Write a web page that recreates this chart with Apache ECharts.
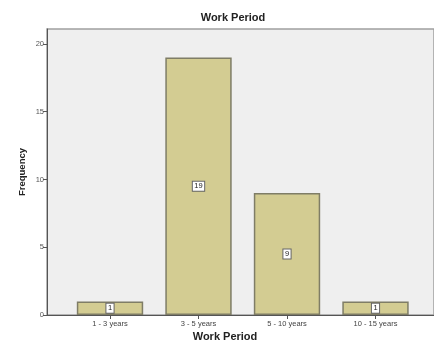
<!DOCTYPE html>
<html>
<head>
<meta charset="utf-8">
<script src="https://cdn.jsdelivr.net/npm/echarts@6/dist/echarts.min.js"></script>
<style>
  html, body { margin: 0; padding: 0; background: #fff; }
  #chart { width: 434px; height: 343px; }
</style>
</head>
<body>
<div id="chart"></div>
<script>
// Work period categories and their frequencies
const categories = ['1 - 3 years', '3 - 5 years', '5 - 10 years', '10 - 15 years'];
const frequencies = [1, 19, 9, 1];
const yTicks = [0, 5, 10, 15, 20];
const yMax = 21.1; // frame headroom above the last tick

const chart = echarts.init(document.getElementById('chart'), null, { renderer: 'canvas' });
const FONT = '"Liberation Sans", Arial, sans-serif';

chart.setOption({
  animation: false,
  backgroundColor: '#ffffff',
  grid: [
    // frame with the frequency axis
    { left: 47, right: 0, top: 29, bottom: 28, show: true,
      backgroundColor: '#efefef', borderColor: '#a0a0a0', borderWidth: 1.5 },
    // band area holding the bars
    { left: 65.75, right: 14.25, top: 29, bottom: 28 }
  ],
  xAxis: [
    { gridIndex: 0, type: 'value', min: 0, max: 1,
      axisLine: { show: true, lineStyle: { color: '#555', width: 1 } },
      axisTick: { show: false }, axisLabel: { show: false }, splitLine: { show: false } },
    { gridIndex: 1, type: 'category', data: categories,
      axisLine: { show: false },
      axisTick: { show: true, alignWithLabel: true, length: 4, lineStyle: { color: '#555' } },
      axisLabel: { color: '#444', fontSize: 7.5, fontFamily: FONT, margin: 5 } }
  ],
  yAxis: [
    { gridIndex: 0, type: 'value', min: 0, max: yMax,
      axisLine: { show: true, lineStyle: { color: '#555', width: 1 } },
      axisTick: { show: true, length: 4, customValues: yTicks, lineStyle: { color: '#555' } },
      axisLabel: { color: '#555', fontSize: 7.5, fontFamily: FONT, margin: 3, customValues: yTicks },
      splitLine: { show: false } },
    { gridIndex: 1, type: 'value', min: 0, max: yMax, show: false }
  ],
  series: [{
    type: 'bar',
    xAxisIndex: 1, yAxisIndex: 1,
    data: frequencies,
    barWidth: '75%',
    itemStyle: { color: '#d3cc92', borderColor: '#7f7d66', borderWidth: 1.5 },
    label: {
      show: true, position: 'inside',
      color: '#222', fontSize: 7.5, fontFamily: FONT,
      backgroundColor: '#ffffff', borderColor: '#666', borderWidth: 1,
      padding: [1, 1.5, 0, 1.5]
    }
  }],
  graphic: [
    { type: 'text', z: 10,
      style: { text: 'Work Period', x: 233, y: 18, align: 'center', verticalAlign: 'middle',
        font: 'bold 11px ' + FONT, fill: '#222' } },
    { type: 'text', z: 10,
      style: { text: 'Work Period', x: 225, y: 337, align: 'center', verticalAlign: 'middle',
        font: 'bold 11px ' + FONT, fill: '#222' } },
    { type: 'text', z: 10, x: 22, y: 172, rotation: Math.PI / 2,
      style: { text: 'Frequency', x: 0, y: 0, align: 'center', verticalAlign: 'middle',
        font: 'bold 9.5px ' + FONT, fill: '#222' } }
  ]
});
</script>
</body>
</html>
